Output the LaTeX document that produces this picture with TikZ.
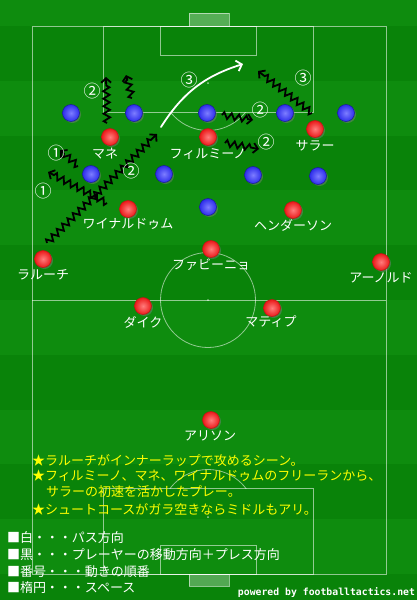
\documentclass[tikz,border=0pt]{standalone}
\usepackage{fontspec}
\newfontfamily\jpfont{Noto Sans CJK JP}
\newfontfamily\webfont{DejaVu Sans Mono}
\newcommand*{\jptext}{\jpfont\fontsize{13}{13}\selectfont}
\definecolor{turfA}{RGB}{14,140,14}
\definecolor{turfB}{RGB}{9,131,9}
\definecolor{redIn}{RGB}{255,125,125}
\definecolor{redOut}{RGB}{235,25,25}
\definecolor{redE}{RGB}{190,20,20}
\definecolor{blueIn}{RGB}{125,125,255}
\definecolor{blueOut}{RGB}{45,45,235}
\definecolor{blueE}{RGB}{25,25,150}
\definecolor{noteC}{RGB}{255,255,0}
\usepackage{tikz}
\usetikzlibrary{arrows.meta}
\usetikzlibrary{decorations.pathmorphing}
\usetikzlibrary{shadows}
\tikzstyle{base}=[x=1pt, y=-1pt, inner sep=0pt, outer sep=0pt]
\tikzstyle{pitch}=[draw=white, draw opacity=0.55, line width=0.8pt]
\tikzstyle{player}=[circle, minimum size=17pt, line width=0.5pt, drop shadow={shadow xshift=1.5pt, shadow yshift=-1.5pt, opacity=0.45}]
\tikzstyle{ours}=[player, draw=redE, inner color=redIn, outer color=redOut]
\tikzstyle{them}=[player, draw=blueE, inner color=blueIn, outer color=blueOut]
\tikzstyle{plname}=[white, font=\jptext]
\tikzstyle{order}=[white, font=\jpfont\fontsize{17}{17}\selectfont]
\tikzstyle{notes}=[noteC, anchor=west, font=\jptext]
\tikzstyle{legendline}=[white, anchor=west, font=\jptext]
\tikzstyle{run}=[black, line width=1.8pt, decorate, decoration={zigzag, segment length=7.5pt, amplitude=3.2pt, post length=5pt}, -{Straight Barb[length=4.5pt, width=10pt]}]
\tikzstyle{pass}=[white, line width=1.8pt, line cap=round, -{Straight Barb[length=5pt, width=11pt]}]

\begin{document}
\begin{tikzpicture}[base]
    \useasboundingbox (0,0) rectangle (417,600);
    % turf
    \fill [turfB] (0,0) rectangle (417,600);
    \foreach \k in {-1,1,...,9}
        \fill [turfA] ({0},{26+54.8*\k}) rectangle ({417},{26+54.8*(\k+1)});
    % pitch lines
    \draw [pitch] (32,26) rectangle (386,574);
    \draw [pitch] (32,300) -- (386,300);
    \draw [pitch] (208,300) circle [radius=47.5pt];
    \fill [white, opacity=0.6] (208,300) circle [radius=1pt];
    \draw [pitch] (103,26) rectangle (313,112);
    \draw [pitch] (160,26) rectangle (256,55);
    \draw [pitch, fill=white, fill opacity=0.3] (189,13) rectangle (229,26);
    \fill [white, opacity=0.6] (208,83) circle [radius=1pt];
    \begin{scope}
        \clip (103,112) rectangle (313,140);
        \draw [pitch] (208,83) circle [radius=47.5pt];
    \end{scope}
    \draw [pitch] (103,488) rectangle (313,574);
    \draw [pitch] (160,545) rectangle (256,574);
    \draw [pitch, fill=white, fill opacity=0.3] (189,574) rectangle (229,586);
    \fill [white, opacity=0.6] (208,517) circle [radius=1pt];
    \begin{scope}
        \clip (103,460) rectangle (313,488);
        \draw [pitch] (208,517) circle [radius=47.5pt];
    \end{scope}
    % opponents
    \node [them] (b1) at (71,113) {};
    \node [them] (b2) at (134,113) {};
    \node [them] (b3) at (207,113) {};
    \node [them] (b4) at (285,113) {};
    \node [them] (b5) at (346,113) {};
    \node [them] (b6) at (91,174) {};
    \node [them] (b7) at (164,174) {};
    \node [them] (b8) at (253,175) {};
    \node [them] (b9) at (318,176) {};
    \node [them] (b10) at (208,207) {};
    % liverpool
    \node [ours] (mane) at (110,137) {};
    \node [ours] (firmino) at (208,137) {};
    \node [ours] (salah) at (315,129) {};
    \node [ours] (wijnaldum) at (128,209) {};
    \node [ours] (henderson) at (293,210) {};
    \node [ours] (fabinho) at (211,249) {};
    \node [ours] (lallana) at (43,259) {};
    \node [ours] (arnold) at (381,262) {};
    \node [ours] (dijk) at (143,306) {};
    \node [ours] (matip) at (272,308) {};
    \node [ours] (alisson) at (211,420) {};
    \node [plname] (mane-l) at (105,154) {マネ};
    \node [plname] (firmino-l) at (208,154) {フィルミーノ};
    \node [plname] (salah-l) at (315,146) {サラー};
    \node [plname] (wijnaldum-l) at (128,224) {ワイナルドゥム};
    \node [plname] (henderson-l) at (293,225) {ヘンダーソン};
    \node [plname] (fabinho-l) at (211,265) {ファビーニョ};
    \node [plname] (lallana-l) at (43,275) {ラルーチ};
    \node [plname] (arnold-l) at (381,278) {アーノルド};
    \node [plname] (dijk-l) at (143,322) {ダイク};
    \node [plname] (matip-l) at (271,322) {マティプ};
    \node [plname] (alisson-l) at (210,436) {アリソン};
    % runs
    \coordinate (r1s) at (107,123); \coordinate (r1e) at (106,77);
    \coordinate (r2s) at (132,98);  \coordinate (r2e) at (126,75);
    \coordinate (r3s) at (222,115); \coordinate (r3e) at (253,120);
    \coordinate (r4s) at (225,143); \coordinate (r4e) at (259,149);
    \coordinate (r5s) at (312,113); \coordinate (r5e) at (258,71);
    \coordinate (r6s) at (47,243);  \coordinate (r6e) at (157,134);
    \coordinate (r7s) at (107,203); \coordinate (r7e) at (48,172);
    \coordinate (r8s) at (78,166);  \coordinate (r8e) at (60,150);
    \foreach \r in {1,...,8}
        \draw [run] (r\r s) -- (r\r e);
    % pass
    \coordinate (p1s) at (161,127); \coordinate (p1e) at (243,64);
    \draw [pass] (p1s) to [bend left=20] (p1e);
    % order
    \node [order] (n1) at (92,91) {②};
    \node [order] (n2) at (189,80) {③};
    \node [order] (n3) at (303,78) {③};
    \node [order] (n4) at (260,110) {②};
    \node [order] (n5) at (266,142) {②};
    \node [order] (n6) at (56,153) {①};
    \node [order] (n7) at (131,171) {②};
    \node [order] (n8) at (43,191) {①};
    % notes
    \node [notes] (t1) at (32,461) {★ラルーチがインナーラップで攻めるシーン。};
    \node [notes] (t2) at (32,476) {★フィルミーノ、マネ、ワイナルドゥムのフリーランから、};
    \node [notes] (t3) at (46,492) {サラーの初速を活かしたプレー。};
    \node [notes] (t4) at (32,509) {★シュートコースがガラ空きならミドルもアリ。};
    \node [legendline] (k1) at (7,538) {■白・・・パス方向};
    \node [legendline] (k2) at (7,555) {■黒・・・プレーヤーの移動方向＋プレス方向};
    \node [legendline] (k3) at (7,572) {■番号・・・動きの順番};
    \node [legendline] (k4) at (7,588) {■楕円・・・スペース};
    \node [white, anchor=east, font=\webfont\bfseries\fontsize{9.8}{10}\selectfont] (web) at (415,593) {powered by footballtactics.net};
\end{tikzpicture}
\end{document}
